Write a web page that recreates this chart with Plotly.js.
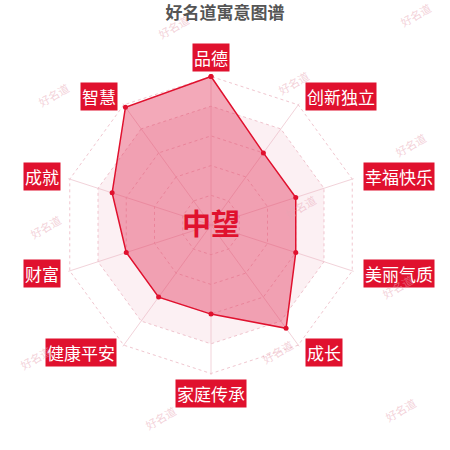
<!DOCTYPE html>
<html>
<head>
<meta charset="utf-8">
<script src="https://cdn.plot.ly/plotly-3.0.1.min.js"></script>
<style>
  html, body { margin: 0; padding: 0; background: #fff; }
  #chart { width: 450px; height: 450px; }
</style>
</head>
<body>
<div id="chart"></div>
<script>
// --- data ---
const categories = ['品德', '创新独立', '幸福快乐', '美丽气质', '成长', '家庭传承', '健康平安', '财富', '成就', '智慧'];
const values = [100, 60, 60, 60, 86, 60, 60, 60, 70, 98];
const bandLevels = [80, 80, 80, 80, 80, 80, 80, 80, 80, 80];
const ringLevels = [20, 40, 60, 80, 100];
const centerName = '中望';
const chartTitle = '好名道寓意图谱';

const RED = '#e0112e';

// label boxes sit outside the radar, placed in paper space
const labelPos = [
    [211, 57], [341, 97], [399, 176], [399, 273], [324, 352],
    [211, 393], [81, 352], [42, 273], [42, 176], [99, 97]
];
const px = (x) => x / 450;
const py = (y) => 1 - y / 450;

const annotations = categories.map((c, i) => ({
    text: c,
    x: px(labelPos[i][0]), y: py(labelPos[i][1]),
    xref: 'paper', yref: 'paper',
    xanchor: 'center', yanchor: 'middle',
    showarrow: false,
    font: { family: 'Noto Sans CJK SC', size: 17, color: '#fff' },
    bgcolor: RED,
    borderpad: 1
}));

// watermarks
const marks = [[173, 27], [415, 15], [53, 95], [293, 83], [410, 145], [45, 227],
               [300, 207], [397, 287], [277, 352], [35, 358], [160, 418], [400, 410]];
marks.forEach(m => annotations.push({
    text: '好名道',
    x: px(m[0]), y: py(m[1]),
    xref: 'paper', yref: 'paper',
    xanchor: 'center', yanchor: 'middle',
    showarrow: false,
    textangle: -30,
    font: { family: 'Noto Sans CJK SC', size: 11, color: 'rgba(232,165,180,0.5)' }
}));

annotations.push({
    text: '<b>' + centerName + '</b>',
    x: px(211), y: py(222),
    xref: 'paper', yref: 'paper',
    xanchor: 'center', yanchor: 'middle',
    showarrow: false,
    font: { family: 'Noto Sans CJK SC', size: 29, color: RED }
});

const closedCats = categories.concat([categories[0]]);

const traces = [
    {
        type: 'scatterpolar',
        r: bandLevels.concat([bandLevels[0]]),
        theta: closedCats,
        mode: 'lines',
        line: { width: 0, color: 'rgba(0,0,0,0)' },
        fill: 'toself',
        fillcolor: 'rgba(240,180,195,0.2)',
        hoverinfo: 'skip'
    },
    {
        type: 'scatterpolar',
        r: values.concat([values[0]]),
        theta: closedCats,
        mode: 'lines+markers',
        line: { color: RED, width: 1.5 },
        marker: { color: RED, size: 5 },
        fill: 'toself',
        fillcolor: 'rgba(226,40,80,0.4)'
    }
];

const layout = {
    width: 450,
    height: 450,
    margin: { l: 0, r: 0, t: 0, b: 0 },
    paper_bgcolor: '#fff',
    showlegend: false,
    title: {
        text: '<b>' + chartTitle + '</b>',
        x: 0.5, xanchor: 'center',
        y: py(13), yanchor: 'middle',
        font: { family: 'Noto Sans CJK SC', size: 17, color: '#555' }
    },
    polar: {
        domain: { x: [px(61), px(361)], y: [py(375), py(75)] },
        bgcolor: 'rgba(0,0,0,0)',
        gridshape: 'linear',
        radialaxis: {
            range: [0, 101],
            tickvals: ringLevels,
            showticklabels: false,
            ticks: '',
            showline: false,
            gridcolor: '#f0c6cf',
            griddash: 'dot'
        },
        angularaxis: {
            direction: 'clockwise',
            rotation: 90,
            showticklabels: false,
            ticks: '',
            showline: false,
            gridcolor: '#f2d3da'
        }
    },
    annotations: annotations
};

Plotly.newPlot('chart', traces, layout, { displayModeBar: false, staticPlot: true });
</script>
</body>
</html>
